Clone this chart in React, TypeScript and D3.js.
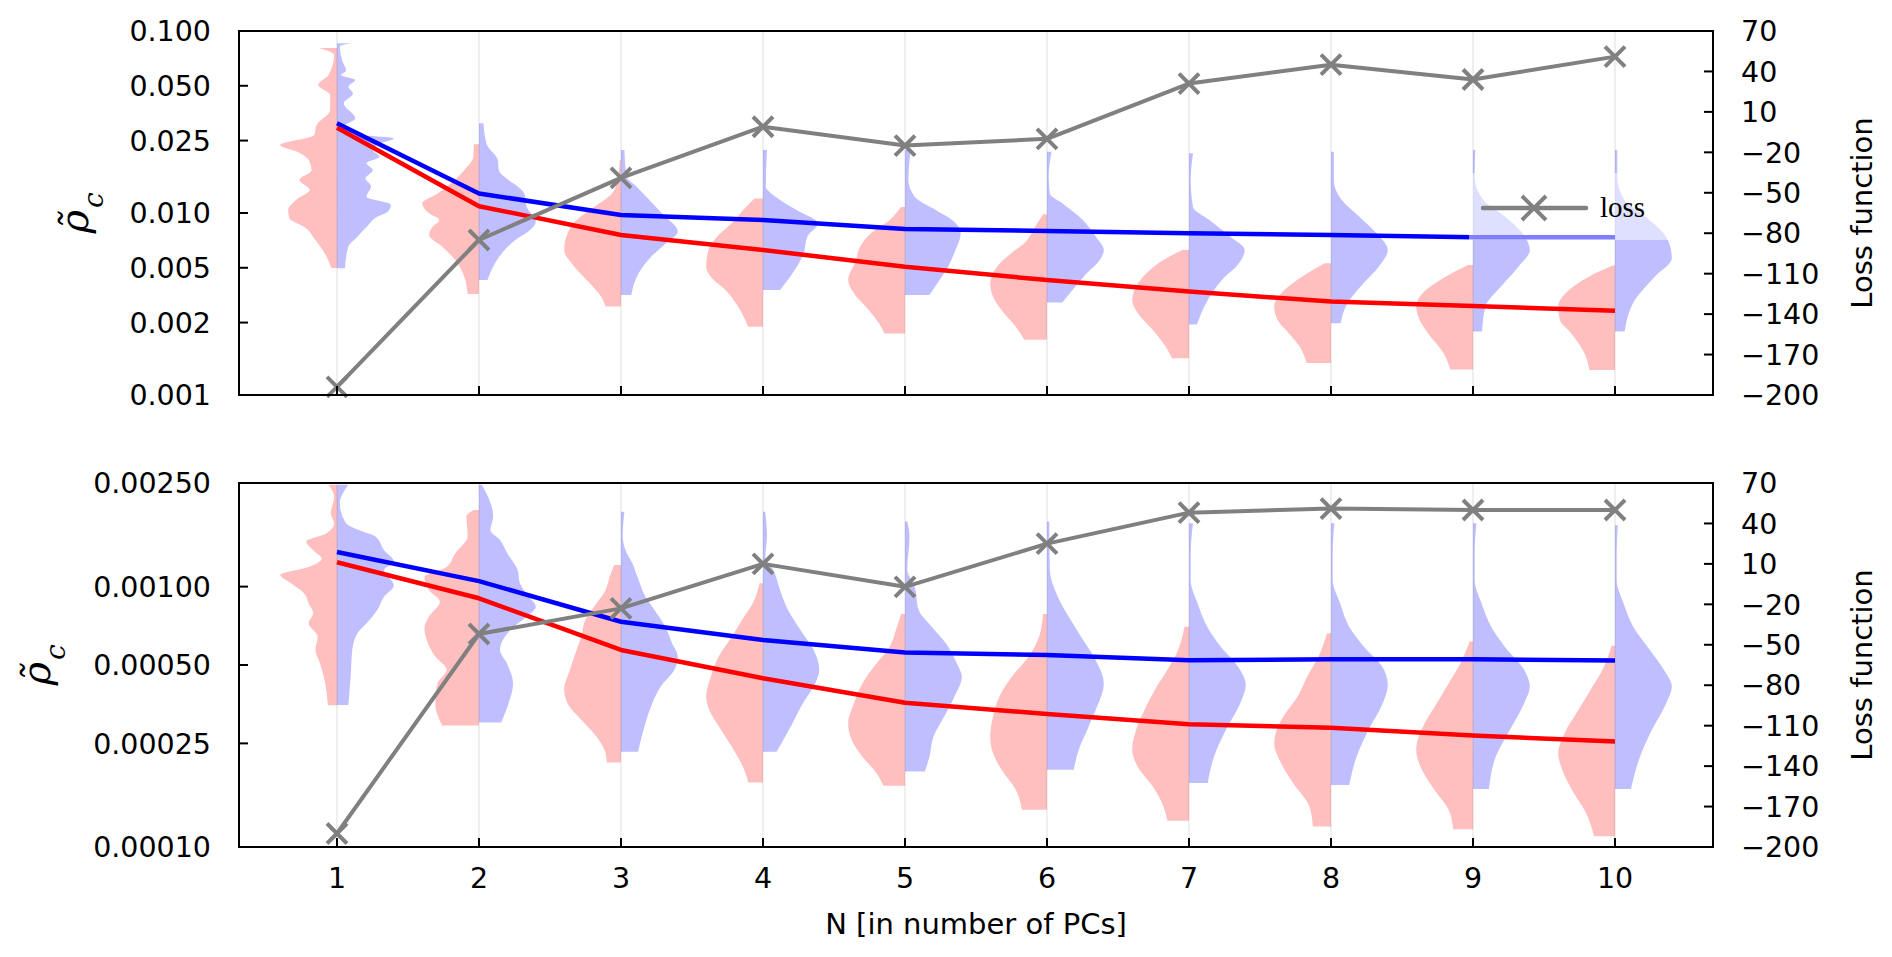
import * as d3 from "d3";

type Profile = [number, number][];

const nValues = [1, 2, 3, 4, 5, 6, 7, 8, 9, 10];

const topLoss = [-194, -85, -39, -1, -15, -10, 31, 45, 34, 51];
const bottomLoss = [-190, -42, -23, 10, -7, 25, 48, 51, 50, 50];

const topBlueLine = [0.0311, 0.0128, 0.00975, 0.00916, 0.00817, 0.00796, 0.00773, 0.00757, 0.00735, 0.00735];
const topRedLine = [0.0294, 0.0109, 0.00757, 0.00626, 0.00507, 0.00428, 0.0037, 0.00326, 0.00308, 0.0029];
const bottomBlueLine = [0.001358, 0.00105, 0.000733, 0.000624, 0.000558, 0.000546, 0.000522, 0.000526, 0.000526, 0.00052];
const bottomRedLine = [0.00124, 0.000902, 0.000571, 0.000445, 0.000358, 0.000324, 0.000296, 0.000287, 0.000268, 0.000254];

const topYTicks = [0.1, 0.05, 0.025, 0.01, 0.005, 0.0025, 0.001];
const topYTickLabels = ["0.100", "0.050", "0.025", "0.010", "0.005", "0.002", "0.001"];
const bottomYTicks = [0.0025, 0.001, 0.0005, 0.00025, 0.0001];
const bottomYTickLabels = ["0.00250", "0.00100", "0.00050", "0.00025", "0.00010"];
const lossTicks = [70, 40, 10, -20, -50, -80, -110, -140, -170, -200];

// violin profiles: [value, relative half width]
const topRedViolins: Profile[] = [
  [[0.0806, .32], [0.0738, .05], [0.0573, .15], [0.0505, .33], [0.0445, .12], [0.0368, .12], [0.0304, .36], [0.0268, .4], [0.0236, 1.0], [0.0216, .68], [0.0196, .5], [0.0172, .45], [0.0152, .66], [0.0134, .48], [0.0118, .72], [0.0104, .86], [0.00939, .84], [0.00827, .55], [0.00711, .38], [0.00588, .2], [0.00499, .1]],
  [[0.0239, .09], [0.0204, .1], [0.0172, .26], [0.0146, .49], [0.0128, .73], [0.0113, 1.0], [0.00996, .88], [0.00916, .7], [0.00838, .82], [0.00757, .88], [0.00654, .65], [0.00552, .42], [0.00447, .26], [0.00359, .2]],
  [[0.0196, .02], [0.0152, .06], [0.0128, .16], [0.0108, .47], [0.00916, .78], [0.00773, .94], [0.00627, 1.0], [0.00507, .82], [0.00411, .55], [0.00347, .35], [0.00306, .27]],
  [[0.012, .15], [0.0108, .3], [0.00877, .55], [0.00741, .81], [0.00627, .96], [0.00507, 1.0], [0.00447, .92], [0.00378, .66], [0.00306, .44], [0.00237, .26]],
  [[0.0108, .07], [0.00916, .27], [0.00773, .6], [0.00654, .79], [0.00552, .86], [0.00429, 1.0], [0.00362, .9], [0.00293, .64], [0.00248, .46], [0.00218, .36]],
  [[0.00983, .07], [0.00838, .21], [0.00683, .4], [0.00605, .62], [0.00507, .88], [0.00411, 1.0], [0.00347, .95], [0.00293, .8], [0.00237, .55], [0.00201, .4]],
  [[0.00627, .12], [0.00552, .45], [0.00466, .75], [0.00394, .93], [0.00333, 1.0], [0.00281, .9], [0.00228, .64], [0.00184, .41], [0.00159, .3]],
  [[0.00529, .11], [0.00447, .51], [0.00378, .82], [0.00306, 1.0], [0.00258, .94], [0.00218, .74], [0.00184, .55], [0.0015, .43]],
  [[0.00518, .09], [0.00447, .48], [0.00378, .83], [0.00306, 1.0], [0.00258, .94], [0.00218, .79], [0.0017, .52], [0.00138, .4]],
  [[0.00514, .04], [0.00447, .46], [0.00378, .81], [0.00306, 1.0], [0.00258, .97], [0.00218, .77], [0.0017, .54], [0.00137, .45]],
];

const topBlueViolins: Profile[] = [
  [[0.0856, .24], [0.082, .05], [0.0678, .1], [0.0605, .16], [0.0573, .07], [0.0538, .32], [0.0494, .2], [0.0454, .28], [0.0401, .12], [0.0331, .32], [0.0298, .1], [0.0274, .08], [0.0257, 1.0], [0.0241, .75], [0.0222, .63], [0.0204, .75], [0.0188, .52], [0.0172, .63], [0.0155, .5], [0.014, .6], [0.0123, .52], [0.0111, .95], [0.0102, .9], [0.00955, .71], [0.00838, .52], [0.00741, .36], [0.00654, .2], [0.00497, .14]],
  [[0.0311, .08], [0.0241, .13], [0.0196, .33], [0.0172, .35], [0.0152, .52], [0.014, .68], [0.0128, .8], [0.0108, .84], [0.00896, 1.0], [0.00807, .9], [0.00711, .64], [0.00605, .41], [0.00507, .25], [0.00429, .15]],
  [[0.0222, .06], [0.0158, .1], [0.014, .27], [0.0118, .5], [0.00996, .72], [0.00789, 1.0], [0.00683, .79], [0.00575, .53], [0.00466, .31], [0.00354, .18]],
  [[0.0222, .07], [0.014, .05], [0.0123, .22], [0.0104, .59], [0.00877, .97], [0.00741, .78], [0.00605, .72], [0.00466, .52], [0.00378, .3]],
  [[0.0222, .1], [0.0152, .06], [0.0123, .17], [0.0104, .54], [0.00916, .83], [0.00773, .98], [0.00605, .87], [0.00507, .76], [0.00429, .61], [0.00354, .43]],
  [[0.0217, .08], [0.0158, .03], [0.0128, .05], [0.0113, .27], [0.00916, .63], [0.00741, .86], [0.00627, 1.0], [0.00552, .93], [0.00466, .7], [0.00378, .45], [0.00322, .27]],
  [[0.0213, .07], [0.0152, .03], [0.0108, .07], [0.00916, .36], [0.00741, .73], [0.00627, .98], [0.00529, .88], [0.00429, .58], [0.00333, .33], [0.00244, .14]],
  [[0.0217, .05], [0.0152, .05], [0.0118, .19], [0.00955, .5], [0.00773, .8], [0.00627, 1.0], [0.00507, .84], [0.00411, .57], [0.00306, .26], [0.00248, .17]],
  [[0.0222, .04], [0.0158, .03], [0.0118, .18], [0.00955, .57], [0.00773, .87], [0.00627, 1.0], [0.00507, .8], [0.00394, .49], [0.00306, .22], [0.00223, .16]],
  [[0.0222, .04], [0.0158, .04], [0.0118, .16], [0.00955, .54], [0.00711, .93], [0.00564, 1.0], [0.00447, .7], [0.00333, .35], [0.00223, .17]],
];

const bottomRedViolins: Profile[] = [
  [[0.00246, .15], [0.00221, .05], [0.00191, .11], [0.00175, .05], [0.0016, .19], [0.00149, .54], [0.00138, .42], [0.00128, .27], [0.00119, .5], [0.00111, 1.0], [0.00103, .81], [0.000943, .58], [0.000863, .5], [0.00079, .42], [0.000723, .5], [0.000642, .34], [0.000572, .38], [0.000508, .3], [0.000439, .22], [0.00035, .16]],
  [[0.00197, .09], [0.00186, .22], [0.00156, .2], [0.00134, .42], [0.00119, .57], [0.00109, .96], [0.000971, .88], [0.000875, .69], [0.000767, .88], [0.000691, .96], [0.000624, .92], [0.000539, .77], [0.000479, .57], [0.000425, .73], [0.000356, .77], [0.000293, .65]],
  [[0.00121, .12], [0.00109, .2], [0.000971, .27], [0.000863, .43], [0.000745, .63], [0.000642, .7], [0.000572, .78], [0.000479, .9], [0.000402, 1.0], [0.000356, .94], [0.000308, .7], [0.000265, .43], [0.000229, .27], [0.000211, .25]],
  [[0.00103, .06], [0.000863, .18], [0.000745, .37], [0.000642, .55], [0.000539, .78], [0.000451, .92], [0.000378, 1.0], [0.000337, .95], [0.000282, .74], [0.000237, .52], [0.000198, .33], [0.000177, .26]],
  [[0.000785, .07], [0.000682, .16], [0.000588, .27], [0.000508, .5], [0.000425, .75], [0.000356, .9], [0.000299, 1.0], [0.000258, .94], [0.000222, .75], [0.000192, .5], [0.000172, .38]],
  [[0.000785, .07], [0.000642, .14], [0.000539, .32], [0.000451, .62], [0.000378, .84], [0.000317, .95], [0.000265, 1.0], [0.000229, .95], [0.000198, .8], [0.000166, .55], [0.000139, .44]],
  [[0.000702, .08], [0.000572, .19], [0.000479, .38], [0.000402, .6], [0.000337, .78], [0.000282, .93], [0.000237, 1.0], [0.000203, .9], [0.000171, .64], [0.000143, .45], [0.000126, .38]],
  [[0.000662, .07], [0.000539, .22], [0.000451, .42], [0.000378, .59], [0.000317, .84], [0.00025, 1.0], [0.00021, .88], [0.000176, .67], [0.000143, .38], [0.00012, .32]],
  [[0.000615, .06], [0.000508, .22], [0.000425, .43], [0.000356, .64], [0.000299, .85], [0.000237, 1.0], [0.000198, .9], [0.000166, .68], [0.000139, .43], [0.000117, .35]],
  [[0.000593, .06], [0.000479, .22], [0.000402, .43], [0.000337, .64], [0.000273, .89], [0.000229, 1.0], [0.000198, .93], [0.000166, .76], [0.000135, .51], [0.00011, .37]],
];

const bottomBlueViolins: Profile[] = [
  [[0.00246, .2], [0.00209, .05], [0.00175, .16], [0.00163, .44], [0.00156, .67], [0.00138, .83], [0.00125, 1.0], [0.00116, .83], [0.00101, 1.0], [0.000915, .83], [0.000814, .71], [0.000723, .52], [0.000662, .36], [0.000572, .27], [0.000451, .24], [0.000351, .2]],
  [[0.00246, .05], [0.00186, .25], [0.00165, .2], [0.00151, .37], [0.00134, .5], [0.00116, .68], [0.00103, .72], [0.000915, .88], [0.000837, 1.0], [0.000767, .84], [0.000691, .58], [0.000572, .37], [0.000508, .49], [0.000425, .6], [0.000356, .52], [0.000301, .39]],
  [[0.00194, .06], [0.00156, .03], [0.00138, .08], [0.00123, .2], [0.00106, .31], [0.000915, .43], [0.000814, .59], [0.000702, .78], [0.000606, .9], [0.000539, 1.0], [0.000479, .94], [0.000413, .7], [0.000356, .55], [0.000299, .43], [0.000232, .3]],
  [[0.00194, .04], [0.00156, .07], [0.0013, .04], [0.00116, .18], [0.000971, .3], [0.000814, .44], [0.000682, .66], [0.000572, .89], [0.000479, .99], [0.000425, .92], [0.000356, .7], [0.000299, .52], [0.000232, .24]],
  [[0.00178, .04], [0.00156, .08], [0.00116, .04], [0.000999, .17], [0.000814, .24], [0.000702, .47], [0.000606, .72], [0.000508, .91], [0.000451, 1.0], [0.000378, .87], [0.000317, .69], [0.000265, .5], [0.000222, .43], [0.000195, .35]],
  [[0.00178, .04], [0.00116, .05], [0.000915, .19], [0.000767, .38], [0.000642, .6], [0.000539, .82], [0.000425, 1.0], [0.000337, .86], [0.000282, .71], [0.000237, .56], [0.000198, .47]],
  [[0.00175, .07], [0.00134, .03], [0.00106, .03], [0.000863, .15], [0.000702, .32], [0.000588, .56], [0.000493, .86], [0.000419, 1.0], [0.000356, .9], [0.000282, .65], [0.000222, .44], [0.000176, .33]],
  [[0.00175, .06], [0.00134, .03], [0.00106, .03], [0.000863, .16], [0.000702, .32], [0.000588, .58], [0.000493, .9], [0.000419, 1.0], [0.000356, .91], [0.000282, .66], [0.000222, .45], [0.000173, .32]],
  [[0.00175, .06], [0.00134, .03], [0.00106, .03], [0.000863, .15], [0.000702, .32], [0.000588, .56], [0.000479, .9], [0.000413, 1.0], [0.000356, .9], [0.000282, .65], [0.000222, .4], [0.000167, .28]],
  [[0.00172, .05], [0.00134, .03], [0.00106, .03], [0.000863, .15], [0.000702, .32], [0.000572, .61], [0.000479, .86], [0.000413, 1.0], [0.000356, .9], [0.000282, .65], [0.000222, .44], [0.000167, .28]],
];

const WIDTH = 1892;
const HEIGHT = 957;
const LEFT = 239;
const RIGHT = 1713;
const FONT = "DejaVu Sans";
const TICK_SIZE = 28.5;
const GUIDE_SIZE = 29;
const GREY = "#808080";

const x = d3.scaleLinear().domain([0.31, 10.69]).range([LEFT, RIGHT]);
const halfW = x(1.4) - x(1);

function Cross({ cx, cy, r }: { cx: number; cy: number; r: number }) {
  return (
    <path
      d={`M${cx - r},${cy - r}L${cx + r},${cy + r}M${cx - r},${cy + r}L${cx + r},${cy - r}`}
      stroke={GREY}
      strokeWidth={4}
      fill="none"
    />
  );
}

interface PanelProps {
  top: number;
  bottom: number;
  yDomain: [number, number];
  yTicks: number[];
  yTickLabels: string[];
  redViolins: Profile[];
  blueViolins: Profile[];
  redLine: number[];
  blueLine: number[];
  loss: number[];
  labelX: number;
  showXLabels: boolean;
  showLegend: boolean;
}

function Panel(p: PanelProps) {
  const y = d3.scaleLog().domain(p.yDomain).range([p.bottom, p.top]);
  const yLoss = d3.scaleLinear().domain([-200, 70]).range([p.bottom, p.top]);

  const half = (cx: number, side: number) =>
    d3
      .area<[number, number]>()
      .y((d) => y(d[0]))
      .x0(cx)
      .x1((d) => cx + side * d[1] * halfW)
      .curve(d3.curveMonotoneY);

  const line = d3
    .line<number>()
    .x((_, i) => x(nValues[i]))
    .y((d) => y(d));
  const lossLine = d3
    .line<number>()
    .x((_, i) => x(nValues[i]))
    .y((d) => yLoss(d));

  return (
    <g>
      {nValues.map((n) => (
        <line key={"g" + n} x1={x(n)} x2={x(n)} y1={p.top} y2={p.bottom} stroke="#e4e4e4" strokeWidth={1.2} />
      ))}
      {p.redViolins.map((prof, i) => (
        <path key={"r" + i} d={half(x(nValues[i]), -1)(prof) || ""} fill="rgba(255,0,0,0.25)" />
      ))}
      {p.blueViolins.map((prof, i) => (
        <path key={"b" + i} d={half(x(nValues[i]), 1)(prof) || ""} fill="rgba(0,0,255,0.25)" />
      ))}
      <path d={line(p.blueLine) || ""} stroke="#0000ff" strokeWidth={4.5} fill="none" strokeLinejoin="round" />
      <path d={line(p.redLine) || ""} stroke="#ff0000" strokeWidth={4.5} fill="none" strokeLinejoin="round" />
      <path d={lossLine(p.loss) || ""} stroke={GREY} strokeWidth={4} fill="none" strokeLinejoin="round" />
      {p.loss.map((v, i) => (
        <Cross key={"c" + i} cx={x(nValues[i])} cy={yLoss(v)} r={10} />
      ))}

      {p.showLegend && (
        <g>
          <rect x={1469} y={p.top + 142} width={212} height={67} fill="white" fillOpacity={0.5} />
          <line x1={1483} x2={1586} y1={p.top + 177} y2={p.top + 177} stroke={GREY} strokeWidth={4.5} strokeLinecap="round" />
          <Cross cx={1534} cy={p.top + 177} r={12} />
          <text x={1600} y={p.top + 186} fontFamily="Liberation Serif" fontSize={29}>
            loss
          </text>
        </g>
      )}

      {/* frame */}
      <rect x={LEFT} y={p.top} width={RIGHT - LEFT} height={p.bottom - p.top} fill="none" stroke="#000" strokeWidth={2} />

      {/* x ticks */}
      {nValues.map((n) => (
        <g key={"xt" + n}>
          <line x1={x(n)} x2={x(n)} y1={p.bottom} y2={p.bottom - 9} stroke="#000" strokeWidth={2} />
          {p.showXLabels && (
            <text x={x(n)} y={p.bottom + 41} textAnchor="middle" fontFamily={FONT} fontSize={TICK_SIZE}>
              {n}
            </text>
          )}
        </g>
      ))}

      {/* left y ticks */}
      {p.yTicks.map((t, i) => (
        <g key={"yt" + i}>
          <line x1={LEFT} x2={LEFT + 9} y1={y(t)} y2={y(t)} stroke="#000" strokeWidth={2} />
          <text x={LEFT - 28} y={y(t)} dy="0.36em" textAnchor="end" fontFamily={FONT} fontSize={TICK_SIZE}>
            {p.yTickLabels[i]}
          </text>
        </g>
      ))}

      {/* right loss ticks */}
      {lossTicks.map((t) => (
        <g key={"lt" + t}>
          <line x1={RIGHT} x2={RIGHT - 9} y1={yLoss(t)} y2={yLoss(t)} stroke="#000" strokeWidth={2} />
          <text x={RIGHT + 28} y={yLoss(t)} dy="0.36em" textAnchor="start" fontFamily={FONT} fontSize={TICK_SIZE}>
            {t < 0 ? "\u2212" + Math.abs(t) : String(t)}
          </text>
        </g>
      ))}

      {/* axis labels */}
      <text
        transform={`translate(${p.labelX},${(p.top + p.bottom) / 2}) rotate(-90)`}
        textAnchor="middle"
        fontFamily="DejaVu Serif"
        fontStyle="italic"
        fontSize={40}
      >
        {"\u03C1\u0303"}
        <tspan fontSize={28} dx={2} dy={15}>
          c
        </tspan>
      </text>
      <text
        transform={`translate(1872,${(p.top + p.bottom) / 2}) rotate(-90)`}
        textAnchor="middle"
        fontFamily={FONT}
        fontSize={GUIDE_SIZE}
      >
        Loss function
      </text>
    </g>
  );
}

export default function App() {
  return (
    <svg
      width={WIDTH}
      height={HEIGHT}
      viewBox={`0 0 ${WIDTH} ${HEIGHT}`}
      style={{ position: "absolute", left: 0, top: 0, background: "white" }}
    >
      <rect width={WIDTH} height={HEIGHT} fill="white" />
      <Panel
        top={31}
        bottom={395}
        yDomain={[0.001, 0.1]}
        yTicks={topYTicks}
        yTickLabels={topYTickLabels}
        redViolins={topRedViolins}
        blueViolins={topBlueViolins}
        redLine={topRedLine}
        blueLine={topBlueLine}
        loss={topLoss}
        labelX={88}
        showXLabels={false}
        showLegend={true}
      />
      <Panel
        top={483}
        bottom={847}
        yDomain={[0.0001, 0.0025]}
        yTicks={bottomYTicks}
        yTickLabels={bottomYTickLabels}
        redViolins={bottomRedViolins}
        blueViolins={bottomBlueViolins}
        redLine={bottomRedLine}
        blueLine={bottomBlueLine}
        loss={bottomLoss}
        labelX={50}
        showXLabels={true}
        showLegend={false}
      />
      <text x={(LEFT + RIGHT) / 2} y={934} textAnchor="middle" fontFamily={FONT} fontSize={GUIDE_SIZE}>
        N [in number of PCs]
      </text>
    </svg>
  );
}
